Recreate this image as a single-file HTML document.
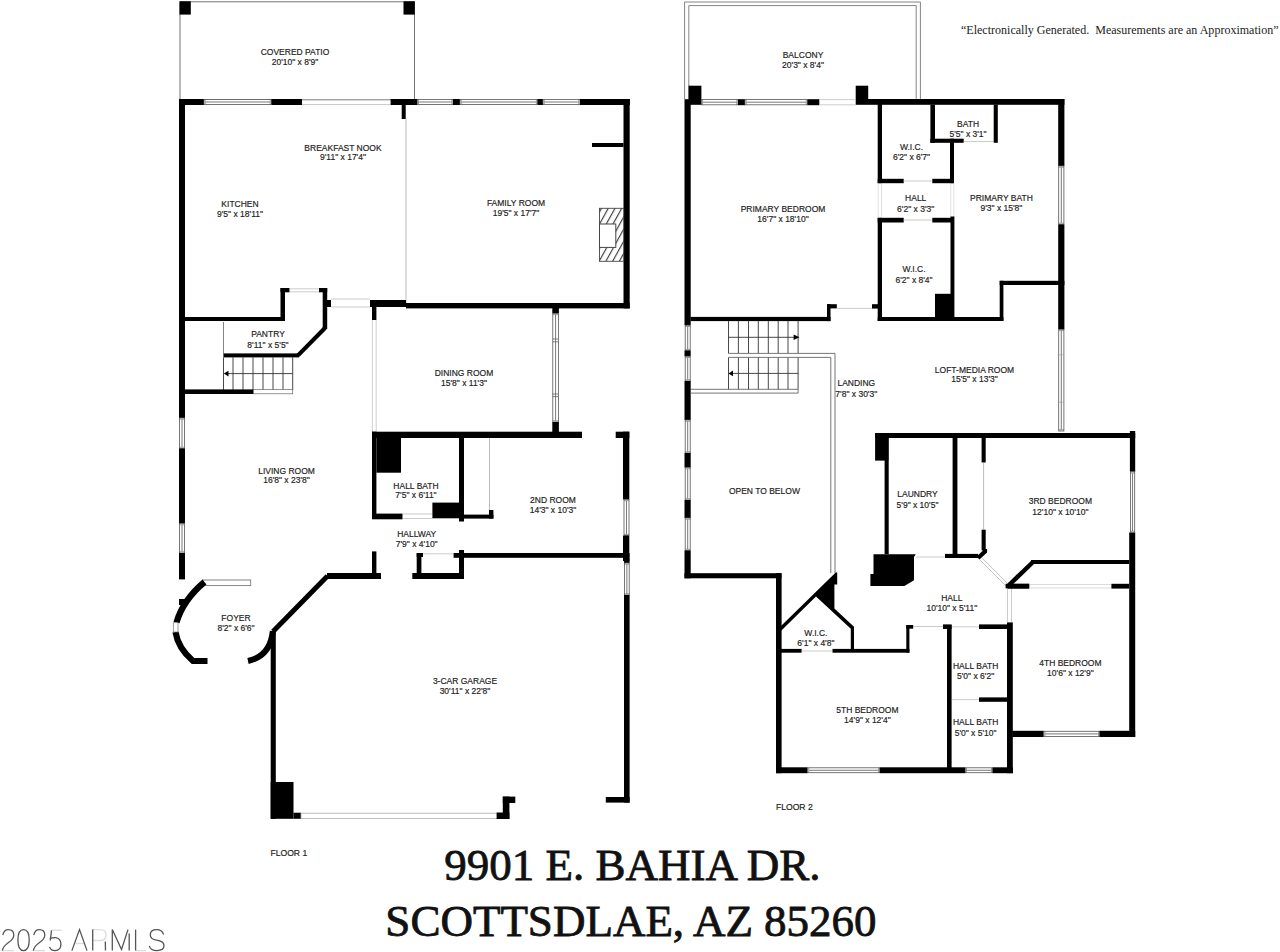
<!DOCTYPE html>
<html><head><meta charset="utf-8">
<style>
html,body{margin:0;padding:0;background:#fff;width:1280px;height:952px;overflow:hidden}
svg{position:absolute;left:0;top:0}
.t{font-family:"Liberation Sans",sans-serif;font-size:9px;fill:#222;stroke:#222;stroke-width:0.18px;text-anchor:middle}
.fl{font-family:"Liberation Sans",sans-serif;font-size:9.5px;fill:#222;stroke:#222;stroke-width:0.2px}
.disc{font-family:"Liberation Serif",serif;font-size:12px;fill:#222}
.addr{font-family:"Liberation Serif",serif;font-size:45px;fill:#111;stroke:#111;stroke-width:0.8px}
.wm{font-family:"Liberation Sans",sans-serif;font-size:32px;fill:#999}
</style></head><body>
<svg width="1280" height="952" viewBox="0 0 1280 952">
<rect x="180" y="1.8" width="234.5" height="98" fill="none" stroke="#666" stroke-width="0.9"/>
<rect x="179.5" y="1.3" width="11.3" height="13.3" fill="#000"/>
<rect x="403.5" y="1.3" width="11.3" height="13.3" fill="#000"/>
<rect x="179" y="99" width="25" height="6" fill="#000"/>
<rect x="204" y="99.5" width="67.5" height="5.0" fill="#fff" stroke="#555" stroke-width="0.8"/>
<line x1="205.5" y1="102.0" x2="270.0" y2="102.0" stroke="#555" stroke-width="0.8"/>
<line x1="205.2" y1="99.5" x2="205.2" y2="104.5" stroke="#555" stroke-width="0.6"/>
<line x1="270.3" y1="99.5" x2="270.3" y2="104.5" stroke="#555" stroke-width="0.6"/>
<rect x="271.5" y="99" width="30.5" height="6" fill="#000"/>
<line x1="302" y1="99.5" x2="390.6" y2="99.5" stroke="#aaa" stroke-width="0.6" stroke-linecap="butt"/>
<line x1="302" y1="104.5" x2="390.6" y2="104.5" stroke="#aaa" stroke-width="0.6" stroke-linecap="butt"/>
<rect x="390.6" y="99" width="26.7" height="6" fill="#000"/>
<rect x="401.7" y="105" width="4.0" height="14" fill="#000"/>
<rect x="417.3" y="99.5" width="35.7" height="5.0" fill="#fff" stroke="#555" stroke-width="0.8"/>
<line x1="418.8" y1="102.0" x2="451.5" y2="102.0" stroke="#555" stroke-width="0.8"/>
<line x1="418.5" y1="99.5" x2="418.5" y2="104.5" stroke="#555" stroke-width="0.6"/>
<line x1="451.8" y1="99.5" x2="451.8" y2="104.5" stroke="#555" stroke-width="0.6"/>
<rect x="453" y="99" width="7" height="6" fill="#000"/>
<rect x="460" y="99.5" width="77.6" height="5.0" fill="#fff" stroke="#555" stroke-width="0.8"/>
<line x1="461.5" y1="102.0" x2="536.1" y2="102.0" stroke="#555" stroke-width="0.8"/>
<line x1="461.2" y1="99.5" x2="461.2" y2="104.5" stroke="#555" stroke-width="0.6"/>
<line x1="536.4" y1="99.5" x2="536.4" y2="104.5" stroke="#555" stroke-width="0.6"/>
<rect x="537.6" y="99" width="5.4" height="6" fill="#000"/>
<rect x="543" y="99.5" width="37" height="5.0" fill="#fff" stroke="#555" stroke-width="0.8"/>
<line x1="544.5" y1="102.0" x2="578.5" y2="102.0" stroke="#555" stroke-width="0.8"/>
<line x1="544.2" y1="99.5" x2="544.2" y2="104.5" stroke="#555" stroke-width="0.6"/>
<line x1="578.8" y1="99.5" x2="578.8" y2="104.5" stroke="#555" stroke-width="0.6"/>
<rect x="580" y="99" width="50" height="6" fill="#000"/>
<rect x="623.5" y="99" width="6.2" height="209.4" fill="#000"/>
<rect x="592" y="143" width="31.5" height="4" fill="#000"/>
<defs><pattern id="hatch" width="5.9" height="7" patternUnits="userSpaceOnUse" patternTransform="translate(601,208) rotate(29)"><rect width="5.9" height="7" fill="#fff"/><line x1="0.6" y1="0" x2="0.6" y2="7" stroke="#333" stroke-width="1.1"/></pattern></defs>
<rect x="599.5" y="208.3" width="24.2" height="53" fill="url(#hatch)" stroke="#444" stroke-width="0.9"/>
<rect x="599.5" y="224" width="16.3" height="23.4" fill="#fff" stroke="#444" stroke-width="1"/>
<line x1="406" y1="119" x2="406" y2="303" stroke="#aaa" stroke-width="0.8" stroke-linecap="butt"/>
<rect x="370" y="300" width="36" height="7" fill="#000"/>
<rect x="406" y="303" width="223.7" height="5.4" fill="#000"/>
<rect x="372" y="307" width="4.4" height="13" fill="#000"/>
<line x1="372.4" y1="320" x2="372.4" y2="432" stroke="#bbb" stroke-width="0.7" stroke-linecap="butt"/>
<line x1="376.2" y1="320" x2="376.2" y2="432" stroke="#bbb" stroke-width="0.7" stroke-linecap="butt"/>
<rect x="179" y="99" width="6" height="319" fill="#000"/>
<rect x="179.5" y="418" width="5.0" height="30.5" fill="#fff" stroke="#555" stroke-width="0.8"/>
<line x1="182.0" y1="419.5" x2="182.0" y2="447.0" stroke="#555" stroke-width="0.8"/>
<line x1="179.5" y1="419.2" x2="184.5" y2="419.2" stroke="#555" stroke-width="0.6"/>
<line x1="179.5" y1="447.3" x2="184.5" y2="447.3" stroke="#555" stroke-width="0.6"/>
<rect x="179" y="448.5" width="6" height="75.0" fill="#000"/>
<rect x="179.5" y="523.5" width="5.0" height="29.5" fill="#fff" stroke="#555" stroke-width="0.8"/>
<line x1="182.0" y1="525.0" x2="182.0" y2="551.5" stroke="#555" stroke-width="0.8"/>
<line x1="179.5" y1="524.7" x2="184.5" y2="524.7" stroke="#555" stroke-width="0.6"/>
<line x1="179.5" y1="551.8" x2="184.5" y2="551.8" stroke="#555" stroke-width="0.6"/>
<rect x="179" y="553" width="6" height="26.4" fill="#000"/>
<rect x="185" y="317" width="99" height="4" fill="#000"/>
<rect x="280.5" y="288" width="4.5" height="33" fill="#000"/>
<rect x="280.5" y="288" width="9.0" height="4.3" fill="#000"/>
<line x1="289.5" y1="288.8" x2="319" y2="288.8" stroke="#aaa" stroke-width="0.6" stroke-linecap="butt"/>
<line x1="289.5" y1="291.8" x2="319" y2="291.8" stroke="#aaa" stroke-width="0.6" stroke-linecap="butt"/>
<rect x="319" y="288" width="8.2" height="4.3" fill="#000"/>
<rect x="322.7" y="288" width="4.5" height="41" fill="#000"/>
<path d="M 325 328 L 298 355.4" stroke="#000" stroke-width="4.2" fill="none" stroke-linejoin="miter"/>
<rect x="223.5" y="353.4" width="75.5" height="4.0" fill="#000"/>
<rect x="327" y="300" width="4" height="7" fill="#000"/>
<line x1="331" y1="299" x2="370" y2="299" stroke="#aaa" stroke-width="0.6" stroke-linecap="butt"/>
<line x1="331" y1="307" x2="370" y2="307" stroke="#aaa" stroke-width="0.6" stroke-linecap="butt"/>
<line x1="223.5" y1="357.4" x2="223.5" y2="390" stroke="#333" stroke-width="0.9" stroke-linecap="butt"/>
<line x1="233" y1="357.4" x2="233" y2="390" stroke="#333" stroke-width="0.9" stroke-linecap="butt"/>
<line x1="243" y1="357.4" x2="243" y2="390" stroke="#333" stroke-width="0.9" stroke-linecap="butt"/>
<line x1="253" y1="357.4" x2="253" y2="390" stroke="#333" stroke-width="0.9" stroke-linecap="butt"/>
<line x1="263" y1="357.4" x2="263" y2="390" stroke="#333" stroke-width="0.9" stroke-linecap="butt"/>
<line x1="273" y1="357.4" x2="273" y2="390" stroke="#333" stroke-width="0.9" stroke-linecap="butt"/>
<line x1="283" y1="357.4" x2="283" y2="390" stroke="#333" stroke-width="0.9" stroke-linecap="butt"/>
<line x1="292.7" y1="357.4" x2="292.7" y2="390" stroke="#333" stroke-width="0.9" stroke-linecap="butt"/>
<line x1="223.5" y1="322" x2="223.5" y2="357.4" stroke="#666" stroke-width="0.8" stroke-linecap="butt"/>
<line x1="226" y1="373.6" x2="292.7" y2="373.6" stroke="#333" stroke-width="0.9" stroke-linecap="butt"/>
<polygon points="223.8,373.6 228.5,370.8 228.5,376.4" fill="#000"/>
<rect x="185" y="389.4" width="68.6" height="4.6" fill="#000"/>
<rect x="253.6" y="389.6" width="39.1" height="4.2" fill="#fff" stroke="#666" stroke-width="0.7"/>
<rect x="202.5" y="580" width="48.2" height="5.6" fill="#fff" stroke="#777" stroke-width="0.9"/>
<path d="M 204.5 582 Q 183 600 176.5 622.5" stroke="#000" stroke-width="6.2" fill="none" stroke-linejoin="miter"/>
<rect x="179" y="599" width="6" height="6" fill="#000"/>
<path d="M 175.5 632 Q 178 648 193 661 L 207.5 661" stroke="#000" stroke-width="6.2" fill="none" stroke-linejoin="miter"/>
<rect x="173.3" y="622.7" width="4.7" height="9.3" fill="#fff" stroke="#777" stroke-width="0.7"/>
<path d="M 248 661 Q 270.5 656 272.8 631" stroke="#000" stroke-width="6" fill="none" stroke-linejoin="miter"/>
<rect x="552.3" y="307" width="6.6" height="6.4" fill="#000"/>
<rect x="552.8" y="313.4" width="5.6" height="108.6" fill="#fff" stroke="#555" stroke-width="0.8"/>
<line x1="555.5999999999999" y1="314.9" x2="555.5999999999999" y2="420.5" stroke="#555" stroke-width="0.8"/>
<line x1="552.8" y1="314.59999999999997" x2="558.4" y2="314.59999999999997" stroke="#555" stroke-width="0.6"/>
<line x1="552.8" y1="420.8" x2="558.4" y2="420.8" stroke="#555" stroke-width="0.6"/>
<line x1="552.5" y1="339" x2="558" y2="339" stroke="#555" stroke-width="0.7" stroke-linecap="butt"/>
<line x1="552.5" y1="341.8" x2="558" y2="341.8" stroke="#555" stroke-width="0.7" stroke-linecap="butt"/>
<line x1="552.5" y1="394" x2="558" y2="394" stroke="#555" stroke-width="0.7" stroke-linecap="butt"/>
<line x1="552.5" y1="396.6" x2="558" y2="396.6" stroke="#555" stroke-width="0.7" stroke-linecap="butt"/>
<rect x="552.3" y="422" width="6.6" height="14.5" fill="#000"/>
<rect x="372" y="431.7" width="210" height="6.3" fill="#000"/>
<rect x="615.7" y="431.7" width="13.6" height="6.3" fill="#000"/>
<rect x="623" y="431.7" width="6.3" height="67.8" fill="#000"/>
<rect x="624" y="499.5" width="5" height="36.1" fill="#fff" stroke="#555" stroke-width="0.8"/>
<line x1="626.5" y1="501.0" x2="626.5" y2="534.1" stroke="#555" stroke-width="0.8"/>
<line x1="624" y1="500.7" x2="629" y2="500.7" stroke="#555" stroke-width="0.6"/>
<line x1="624" y1="534.4" x2="629" y2="534.4" stroke="#555" stroke-width="0.6"/>
<rect x="623" y="535.6" width="6.3" height="25.4" fill="#000"/>
<rect x="372" y="431.7" width="4.4" height="86.3" fill="#000"/>
<rect x="376.4" y="438" width="24.6" height="34.7" fill="#000"/>
<rect x="459" y="438" width="5" height="83.5" fill="#000"/>
<rect x="372" y="513.6" width="30.5" height="5.7" fill="#000"/>
<line x1="402.5" y1="514" x2="432.4" y2="514" stroke="#aaa" stroke-width="0.6" stroke-linecap="butt"/>
<line x1="402.5" y1="518.5" x2="432.4" y2="518.5" stroke="#aaa" stroke-width="0.6" stroke-linecap="butt"/>
<rect x="432.4" y="502.6" width="26.6" height="15.7" fill="#000"/>
<line x1="489.5" y1="438" x2="489.5" y2="512" stroke="#aaa" stroke-width="0.8" stroke-linecap="butt"/>
<rect x="464" y="514.6" width="29.4" height="4.0" fill="#000"/>
<rect x="489" y="510" width="4.4" height="8.6" fill="#000"/>
<rect x="372" y="551.4" width="4.4" height="23.6" fill="#000"/>
<rect x="459" y="550" width="5" height="29" fill="#000"/>
<rect x="416.7" y="553" width="4.7" height="26" fill="#000"/>
<rect x="412.3" y="573" width="51.7" height="6" fill="#000"/>
<rect x="416.7" y="553" width="6.3" height="4" fill="#000"/>
<line x1="423" y1="553.8" x2="453.6" y2="553.8" stroke="#aaa" stroke-width="0.6" stroke-linecap="butt"/>
<rect x="453.6" y="553" width="176.0" height="4.8" fill="#000"/>
<rect x="624" y="558" width="5.6" height="5" fill="#000"/>
<rect x="624.5" y="563" width="4.7" height="32" fill="#fff" stroke="#555" stroke-width="0.8"/>
<line x1="626.85" y1="564.5" x2="626.85" y2="593.5" stroke="#555" stroke-width="0.8"/>
<line x1="624.5" y1="564.2" x2="629.2" y2="564.2" stroke="#555" stroke-width="0.6"/>
<line x1="624.5" y1="593.8" x2="629.2" y2="593.8" stroke="#555" stroke-width="0.6"/>
<rect x="624" y="595" width="5.6" height="207.6" fill="#000"/>
<rect x="605.8" y="797" width="23.8" height="5.6" fill="#000"/>
<path d="M 273 631.5 L 327.5 576" stroke="#000" stroke-width="5" fill="none" stroke-linejoin="miter"/>
<rect x="327" y="573" width="54" height="6" fill="#000"/>
<rect x="270.7" y="631" width="5.1" height="187.8" fill="#000"/>
<rect x="270.7" y="782" width="22.8" height="36.8" fill="#000"/>
<rect x="293.5" y="812.7" width="7.5" height="6.1" fill="#000"/>
<rect x="301" y="813.2" width="196.7" height="5.2" fill="#fff" stroke="#aaa" stroke-width="0.8"/>
<rect x="496.6" y="812.5" width="12.8" height="6.5" fill="#000"/>
<rect x="502.8" y="796.6" width="6.6" height="22.4" fill="#000"/>
<rect x="502.8" y="796.6" width="12.5" height="6.4" fill="#000"/>
<path d="M 684.6 99 L 684.6 2 L 920.4 2 L 920.4 99" fill="none" stroke="#777" stroke-width="0.9"/>
<path d="M 688.8 99 L 688.8 5.6 L 916.2 5.6 L 916.2 99" fill="none" stroke="#777" stroke-width="0.9"/>
<rect x="688.6" y="85.7" width="12.8" height="19.1" fill="#000"/>
<rect x="855.7" y="85.7" width="12.5" height="19.1" fill="#000"/>
<rect x="701.4" y="99.6" width="36.6" height="5.2" fill="#fff" stroke="#555" stroke-width="0.8"/>
<line x1="702.9" y1="102.19999999999999" x2="736.5" y2="102.19999999999999" stroke="#555" stroke-width="0.8"/>
<line x1="702.6" y1="99.6" x2="702.6" y2="104.8" stroke="#555" stroke-width="0.6"/>
<line x1="736.8" y1="99.6" x2="736.8" y2="104.8" stroke="#555" stroke-width="0.6"/>
<rect x="738" y="99.2" width="7" height="6.0" fill="#000"/>
<rect x="745" y="99.6" width="62.5" height="5.2" fill="#fff" stroke="#555" stroke-width="0.8"/>
<line x1="746.5" y1="102.19999999999999" x2="806.0" y2="102.19999999999999" stroke="#555" stroke-width="0.8"/>
<line x1="746.2" y1="99.6" x2="746.2" y2="104.8" stroke="#555" stroke-width="0.6"/>
<line x1="806.3" y1="99.6" x2="806.3" y2="104.8" stroke="#555" stroke-width="0.6"/>
<rect x="807.5" y="99.2" width="11.8" height="6.0" fill="#000"/>
<line x1="819.3" y1="99.6" x2="855.7" y2="99.6" stroke="#aaa" stroke-width="0.6" stroke-linecap="butt"/>
<line x1="819.3" y1="104.8" x2="855.7" y2="104.8" stroke="#aaa" stroke-width="0.6" stroke-linecap="butt"/>
<rect x="868" y="99" width="196.4" height="5.8" fill="#000"/>
<rect x="684.5" y="99.2" width="6.2" height="226.1" fill="#000"/>
<rect x="685.2" y="325.3" width="5.0" height="25.3" fill="#fff" stroke="#555" stroke-width="0.8"/>
<line x1="687.7" y1="326.8" x2="687.7" y2="349.1" stroke="#555" stroke-width="0.8"/>
<line x1="685.2" y1="326.5" x2="690.2" y2="326.5" stroke="#555" stroke-width="0.6"/>
<line x1="685.2" y1="349.40000000000003" x2="690.2" y2="349.40000000000003" stroke="#555" stroke-width="0.6"/>
<rect x="684.5" y="350.6" width="6.2" height="5.7" fill="#000"/>
<rect x="685.2" y="356.3" width="5.0" height="24.7" fill="#fff" stroke="#555" stroke-width="0.8"/>
<line x1="687.7" y1="357.8" x2="687.7" y2="379.5" stroke="#555" stroke-width="0.8"/>
<line x1="685.2" y1="357.5" x2="690.2" y2="357.5" stroke="#555" stroke-width="0.6"/>
<line x1="685.2" y1="379.8" x2="690.2" y2="379.8" stroke="#555" stroke-width="0.6"/>
<rect x="684.5" y="381" width="6.2" height="39" fill="#000"/>
<rect x="685.2" y="420" width="5.0" height="33" fill="#fff" stroke="#555" stroke-width="0.8"/>
<line x1="687.7" y1="421.5" x2="687.7" y2="451.5" stroke="#555" stroke-width="0.8"/>
<line x1="685.2" y1="421.2" x2="690.2" y2="421.2" stroke="#555" stroke-width="0.6"/>
<line x1="685.2" y1="451.8" x2="690.2" y2="451.8" stroke="#555" stroke-width="0.6"/>
<rect x="684.5" y="453" width="6.2" height="14.5" fill="#000"/>
<rect x="685.2" y="467.5" width="5.0" height="32.5" fill="#fff" stroke="#555" stroke-width="0.8"/>
<line x1="687.7" y1="469.0" x2="687.7" y2="498.5" stroke="#555" stroke-width="0.8"/>
<line x1="685.2" y1="468.7" x2="690.2" y2="468.7" stroke="#555" stroke-width="0.6"/>
<line x1="685.2" y1="498.8" x2="690.2" y2="498.8" stroke="#555" stroke-width="0.6"/>
<rect x="684.5" y="500" width="6.2" height="18" fill="#000"/>
<rect x="685.2" y="518" width="5.0" height="32.5" fill="#fff" stroke="#555" stroke-width="0.8"/>
<line x1="687.7" y1="519.5" x2="687.7" y2="549.0" stroke="#555" stroke-width="0.8"/>
<line x1="685.2" y1="519.2" x2="690.2" y2="519.2" stroke="#555" stroke-width="0.6"/>
<line x1="685.2" y1="549.3" x2="690.2" y2="549.3" stroke="#555" stroke-width="0.6"/>
<rect x="684.5" y="550.5" width="6.2" height="27.8" fill="#000"/>
<rect x="690.5" y="316.9" width="140.0" height="4.2" fill="#000"/>
<rect x="827" y="304.2" width="3.5" height="16.9" fill="#000"/>
<rect x="827" y="304.2" width="9.8" height="4.2" fill="#000"/>
<line x1="836.8" y1="308.4" x2="872" y2="308.4" stroke="#aaa" stroke-width="0.6" stroke-linecap="butt"/>
<rect x="872" y="304.2" width="6" height="4.4" fill="#000"/>
<rect x="877.7" y="102" width="4.3" height="81.2" fill="#000"/>
<rect x="877.7" y="217.8" width="4.3" height="103.2" fill="#000"/>
<rect x="877.7" y="317" width="125.7" height="4" fill="#000"/>
<rect x="877.7" y="178.8" width="26.0" height="4.4" fill="#000"/>
<line x1="903.7" y1="181" x2="932.3" y2="181" stroke="#aaa" stroke-width="0.6" stroke-linecap="butt"/>
<rect x="932.3" y="178.8" width="21.7" height="4.4" fill="#000"/>
<rect x="877.7" y="217.8" width="26.0" height="4.7" fill="#000"/>
<line x1="903.7" y1="220" x2="932.3" y2="220" stroke="#aaa" stroke-width="0.6" stroke-linecap="butt"/>
<rect x="932.3" y="217.8" width="21.7" height="4.7" fill="#000"/>
<rect x="950" y="138.7" width="4" height="44.5" fill="#000"/>
<line x1="878.2" y1="183.2" x2="878.2" y2="217.8" stroke="#ccc" stroke-width="0.6" stroke-linecap="butt"/>
<line x1="881.5" y1="183.2" x2="881.5" y2="217.8" stroke="#ccc" stroke-width="0.6" stroke-linecap="butt"/>
<line x1="950.8" y1="183.2" x2="950.8" y2="217.8" stroke="#ccc" stroke-width="0.6" stroke-linecap="butt"/>
<line x1="953.8" y1="183.2" x2="953.8" y2="217.8" stroke="#ccc" stroke-width="0.6" stroke-linecap="butt"/>
<rect x="950.5" y="216.5" width="3.9" height="104.5" fill="#000"/>
<rect x="935" y="293.8" width="19" height="27.2" fill="#000"/>
<rect x="930.4" y="104.6" width="4.6" height="38.2" fill="#000"/>
<rect x="930.4" y="138.7" width="33.3" height="4.1" fill="#000"/>
<line x1="963.7" y1="141.5" x2="993.7" y2="141.5" stroke="#aaa" stroke-width="0.6" stroke-linecap="butt"/>
<rect x="993.7" y="104.6" width="4.1" height="38.2" fill="#000"/>
<rect x="1058.2" y="99" width="6.2" height="67" fill="#000"/>
<rect x="1058.7" y="166" width="5.2" height="58.5" fill="#fff" stroke="#555" stroke-width="0.8"/>
<line x1="1061.3000000000002" y1="167.5" x2="1061.3000000000002" y2="223.0" stroke="#555" stroke-width="0.8"/>
<line x1="1058.7" y1="167.2" x2="1063.9" y2="167.2" stroke="#555" stroke-width="0.6"/>
<line x1="1058.7" y1="223.3" x2="1063.9" y2="223.3" stroke="#555" stroke-width="0.6"/>
<rect x="1058.2" y="224.5" width="6.2" height="104.9" fill="#000"/>
<rect x="1058.7" y="329.4" width="5.2" height="101.6" fill="#fff" stroke="#555" stroke-width="0.8"/>
<line x1="1061.3000000000002" y1="330.9" x2="1061.3000000000002" y2="429.5" stroke="#555" stroke-width="0.8"/>
<line x1="1058.7" y1="330.59999999999997" x2="1063.9" y2="330.59999999999997" stroke="#555" stroke-width="0.6"/>
<line x1="1058.7" y1="429.8" x2="1063.9" y2="429.8" stroke="#555" stroke-width="0.6"/>
<line x1="1058.7" y1="354.8" x2="1063.9" y2="354.8" stroke="#999" stroke-width="0.6" stroke-linecap="butt"/>
<line x1="1058.7" y1="402.2" x2="1063.9" y2="402.2" stroke="#999" stroke-width="0.6" stroke-linecap="butt"/>
<rect x="999.7" y="280.8" width="64.7" height="4.2" fill="#000"/>
<rect x="999.7" y="280.8" width="3.7" height="40.2" fill="#000"/>
<line x1="728.5" y1="321.1" x2="728.5" y2="353.4" stroke="#333" stroke-width="0.9" stroke-linecap="butt"/>
<line x1="728.5" y1="357.4" x2="728.5" y2="389.3" stroke="#333" stroke-width="0.9" stroke-linecap="butt"/>
<line x1="738.4" y1="321.1" x2="738.4" y2="353.4" stroke="#333" stroke-width="0.9" stroke-linecap="butt"/>
<line x1="738.4" y1="357.4" x2="738.4" y2="389.3" stroke="#333" stroke-width="0.9" stroke-linecap="butt"/>
<line x1="748.5" y1="321.1" x2="748.5" y2="353.4" stroke="#333" stroke-width="0.9" stroke-linecap="butt"/>
<line x1="748.5" y1="357.4" x2="748.5" y2="389.3" stroke="#333" stroke-width="0.9" stroke-linecap="butt"/>
<line x1="758.3" y1="321.1" x2="758.3" y2="353.4" stroke="#333" stroke-width="0.9" stroke-linecap="butt"/>
<line x1="758.3" y1="357.4" x2="758.3" y2="389.3" stroke="#333" stroke-width="0.9" stroke-linecap="butt"/>
<line x1="768.3" y1="321.1" x2="768.3" y2="353.4" stroke="#333" stroke-width="0.9" stroke-linecap="butt"/>
<line x1="768.3" y1="357.4" x2="768.3" y2="389.3" stroke="#333" stroke-width="0.9" stroke-linecap="butt"/>
<line x1="778.2" y1="321.1" x2="778.2" y2="353.4" stroke="#333" stroke-width="0.9" stroke-linecap="butt"/>
<line x1="778.2" y1="357.4" x2="778.2" y2="389.3" stroke="#333" stroke-width="0.9" stroke-linecap="butt"/>
<line x1="788" y1="321.1" x2="788" y2="353.4" stroke="#333" stroke-width="0.9" stroke-linecap="butt"/>
<line x1="788" y1="357.4" x2="788" y2="389.3" stroke="#333" stroke-width="0.9" stroke-linecap="butt"/>
<line x1="798.1" y1="321.1" x2="798.1" y2="353.4" stroke="#333" stroke-width="0.9" stroke-linecap="butt"/>
<line x1="798.1" y1="357.4" x2="798.1" y2="389.3" stroke="#333" stroke-width="0.9" stroke-linecap="butt"/>
<line x1="728.5" y1="337.3" x2="794" y2="337.3" stroke="#333" stroke-width="0.9" stroke-linecap="butt"/>
<polygon points="799.5,337.3 793.6,334.5 793.6,340.1" fill="#000"/>
<line x1="732" y1="373.4" x2="798.1" y2="373.4" stroke="#333" stroke-width="0.9" stroke-linecap="butt"/>
<polygon points="728.5,373.4 733,370.6 733,376.2" fill="#000"/>
<path d="M 728.5 353.4 L 835 353.4 L 835 573" fill="none" stroke="#666" stroke-width="0.9"/>
<path d="M 728.5 357.4 L 830.8 357.4 L 830.8 573" fill="none" stroke="#666" stroke-width="0.9"/>
<path d="M 690.7 389.3 L 798.1 389.3 L 798.1 393.1 L 690.7 393.1" fill="none" stroke="#666" stroke-width="0.9"/>
<rect x="684.5" y="573.2" width="96.9" height="5.1" fill="#000"/>
<rect x="776" y="573.2" width="5.6" height="200.0" fill="#000"/>
<polygon points="776.4,630.5 835.7,572.6 837.2,572.6 837.2,584.6 834.4,584.6 834.4,608.5 854,626.8 854,651 850.8,651 850.8,628.7 816,596.6 781.4,630.6 776.4,635" fill="#000"/>
<rect x="776.4" y="648.9" width="25.2" height="3.8" fill="#000"/>
<line x1="801.6" y1="651" x2="832.5" y2="651" stroke="#aaa" stroke-width="0.6" stroke-linecap="butt"/>
<rect x="832.5" y="648.9" width="76.9" height="3.8" fill="#000"/>
<rect x="906.3" y="625" width="3.1" height="27.7" fill="#000"/>
<rect x="906.3" y="625" width="6.9" height="3.7" fill="#000"/>
<line x1="913.2" y1="626.5" x2="943" y2="626.5" stroke="#aaa" stroke-width="0.6" stroke-linecap="butt"/>
<rect x="943" y="624.4" width="8.6" height="4.6" fill="#000"/>
<line x1="951.6" y1="626.8" x2="979" y2="626.8" stroke="#aaa" stroke-width="0.6" stroke-linecap="butt"/>
<rect x="979" y="624.4" width="29.9" height="4.6" fill="#000"/>
<rect x="947" y="625" width="4.6" height="147.7" fill="#000"/>
<rect x="1007" y="622.4" width="5.8" height="150.8" fill="#000"/>
<line x1="1007.5" y1="588" x2="1007.5" y2="622.4" stroke="#aaa" stroke-width="0.6" stroke-linecap="butt"/>
<line x1="1011.5" y1="588" x2="1011.5" y2="622.4" stroke="#aaa" stroke-width="0.6" stroke-linecap="butt"/>
<line x1="951.6" y1="699.6" x2="979" y2="699.6" stroke="#aaa" stroke-width="0.6" stroke-linecap="butt"/>
<rect x="979" y="697.4" width="29.9" height="4.4" fill="#000"/>
<rect x="776" y="767.3" width="31.5" height="5.9" fill="#000"/>
<rect x="807.5" y="767.8" width="72.3" height="4.9" fill="#fff" stroke="#555" stroke-width="0.8"/>
<line x1="809.0" y1="770.25" x2="878.3" y2="770.25" stroke="#555" stroke-width="0.8"/>
<line x1="808.7" y1="767.8" x2="808.7" y2="772.7" stroke="#555" stroke-width="0.6"/>
<line x1="878.5999999999999" y1="767.8" x2="878.5999999999999" y2="772.7" stroke="#555" stroke-width="0.6"/>
<rect x="879.8" y="767.3" width="85.5" height="5.9" fill="#000"/>
<rect x="965.3" y="767.8" width="27.4" height="4.9" fill="#fff" stroke="#555" stroke-width="0.8"/>
<line x1="966.8" y1="770.25" x2="991.2" y2="770.25" stroke="#555" stroke-width="0.8"/>
<line x1="966.5" y1="767.8" x2="966.5" y2="772.7" stroke="#555" stroke-width="0.6"/>
<line x1="991.5" y1="767.8" x2="991.5" y2="772.7" stroke="#555" stroke-width="0.6"/>
<rect x="992.7" y="767.3" width="20.3" height="5.9" fill="#000"/>
<rect x="1012.3" y="730.8" width="31.5" height="6.2" fill="#000"/>
<rect x="1043.8" y="731.3" width="55.9" height="5.2" fill="#fff" stroke="#555" stroke-width="0.8"/>
<line x1="1045.3" y1="733.9" x2="1098.2" y2="733.9" stroke="#555" stroke-width="0.8"/>
<line x1="1045.0" y1="731.3" x2="1045.0" y2="736.5" stroke="#555" stroke-width="0.6"/>
<line x1="1098.5" y1="731.3" x2="1098.5" y2="736.5" stroke="#555" stroke-width="0.6"/>
<rect x="1099.7" y="730.8" width="35.5" height="6.2" fill="#000"/>
<rect x="1129.2" y="532.5" width="6.0" height="204.5" fill="#000"/>
<rect x="1008" y="583.8" width="21.2" height="4.8" fill="#000"/>
<line x1="1029.2" y1="584.5" x2="1111.4" y2="584.5" stroke="#ccc" stroke-width="0.7" stroke-linecap="butt"/>
<line x1="1029.2" y1="588" x2="1111.4" y2="588" stroke="#ccc" stroke-width="0.7" stroke-linecap="butt"/>
<rect x="1111.4" y="583.8" width="17.8" height="4.8" fill="#000"/>
<rect x="875.1" y="433" width="260.1" height="5" fill="#000"/>
<rect x="1129.9" y="431" width="5.3" height="40.8" fill="#000"/>
<rect x="1130.4" y="471.8" width="4.3" height="60.7" fill="#fff" stroke="#555" stroke-width="0.8"/>
<line x1="1132.5500000000002" y1="473.3" x2="1132.5500000000002" y2="531.0" stroke="#555" stroke-width="0.8"/>
<line x1="1130.4" y1="473.0" x2="1134.7" y2="473.0" stroke="#555" stroke-width="0.6"/>
<line x1="1130.4" y1="531.3" x2="1134.7" y2="531.3" stroke="#555" stroke-width="0.6"/>
<rect x="875.1" y="433.6" width="13.3" height="27.0" fill="#000"/>
<rect x="884.6" y="438" width="4.1" height="116.2" fill="#000"/>
<rect x="952.6" y="438" width="4.8" height="118" fill="#000"/>
<rect x="981.6" y="438" width="4.1" height="24.5" fill="#000"/>
<line x1="983.6" y1="462.5" x2="983.6" y2="529.7" stroke="#aaa" stroke-width="0.8" stroke-linecap="butt"/>
<rect x="981.6" y="529.7" width="4.1" height="20.8" fill="#000"/>
<polygon points="873.5,554.2 915.8,554.2 914,557 914,580.2 904.4,586 870.4,586 870.4,574 873.5,574" fill="#000"/>
<line x1="916" y1="557" x2="945" y2="557" stroke="#aaa" stroke-width="0.6" stroke-linecap="butt"/>
<rect x="945" y="553.9" width="33" height="4.1" fill="#000"/>
<path d="M 985 549 L 985 551.5 L 978 558" stroke="#000" stroke-width="4.2" fill="none" stroke-linejoin="miter"/>
<line x1="982" y1="558" x2="1007" y2="583" stroke="#bbb" stroke-width="0.8" stroke-linecap="butt"/>
<line x1="980" y1="560" x2="1005" y2="585" stroke="#bbb" stroke-width="0.8" stroke-linecap="butt"/>
<path d="M 1007 587 L 1033 562" stroke="#000" stroke-width="4.4" fill="none" stroke-linejoin="miter"/>
<rect x="1031" y="560" width="98.2" height="4" fill="#000"/>
<rect x="1005.6" y="583.8" width="23.6" height="4.6" fill="#000"/>
<path d="M 2.3 950.6 L 14 950.6" fill="none" stroke="#ddd" stroke-width="1.4"/>
<path d="M 33.3 950.6 L 45 950.6" fill="none" stroke="#ddd" stroke-width="1.4"/>
<path d="M 51.5 930.3 L 61.5 930.3" fill="none" stroke="#ddd" stroke-width="1.4"/>
<path d="M 75.5 943.5 L 84 943.5" fill="none" stroke="#ddd" stroke-width="1.4"/>
<path d="M 92.7 929.6 L 100 929.6 Q 106 929.6 106 935 Q 106 940.5 100 940.5 L 92.7 940.5" fill="none" stroke="#ddd" stroke-width="1.4"/>
<path d="M 135.6 950.6 L 146 950.6" fill="none" stroke="#ddd" stroke-width="1.4"/>
<path d="M 2.8 935 Q 4 929.6 8.3 929.6 Q 13.8 929.6 13.8 935 Q 13.8 939 8.2 942.8 Q 3.2 946.3 2.3 950.6" fill="none" stroke="#555" stroke-width="1.3"/>
<path d="M 23.5 929.6 Q 17.9 929.6 17.9 940 Q 17.9 950.6 23.5 950.6 Q 29.2 950.6 29.2 940 Q 29.2 929.6 23.5 929.6 Z" fill="none" stroke="#555" stroke-width="1.3"/>
<path d="M 33.8 935 Q 35 929.6 39.3 929.6 Q 44.8 929.6 44.8 935 Q 44.8 939 39.2 942.8 Q 34.2 946.3 33.3 950.6" fill="none" stroke="#555" stroke-width="1.3"/>
<path d="M 51.5 930.3 L 50.3 940.5" fill="none" stroke="#555" stroke-width="1.3"/>
<path d="M 49.8 938.8 Q 52.5 937.3 55.5 937.6 Q 60.9 938.3 60.9 944 Q 60.9 950.6 55 950.6 Q 50.6 950.6 49.6 946.8" fill="none" stroke="#555" stroke-width="1.3"/>
<path d="M 71.9 950.6 L 79.5 929.6 L 87 950.6" fill="none" stroke="#555" stroke-width="1.3"/>
<path d="M 92.7 929.6 L 92.7 950.6" fill="none" stroke="#555" stroke-width="1.3"/>
<path d="M 105.3 941.5 L 105.5 950.6" fill="none" stroke="#555" stroke-width="1.3"/>
<path d="M 112.3 950.6 L 112.3 929.6 L 121.5 949.5 L 128 929.6" fill="none" stroke="#555" stroke-width="1.3"/>
<path d="M 129.2 933.5 L 129.2 950.6" fill="none" stroke="#555" stroke-width="1.3"/>
<path d="M 135.6 929.6 L 135.6 950.6" fill="none" stroke="#555" stroke-width="1.3"/>
<path d="M 163.6 934.5 Q 162 929.6 156.5 929.6 Q 150.3 929.6 150.3 934.8 Q 150.3 939.3 156.5 940.2 Q 164 941.3 164 945.6 Q 164 950.6 157 950.6 Q 150.5 950.6 149.3 945.8" fill="none" stroke="#555" stroke-width="1.3"/>
<text transform="translate(295,54.8) scale(0.945,1)" x="0" y="0" class="t">COVERED PATIO</text>
<text transform="translate(295,64.8) scale(0.945,1)" x="0" y="0" class="t">20'10" x 8'9"</text>
<text transform="translate(343,150.8) scale(0.945,1)" x="0" y="0" class="t">BREAKFAST NOOK</text>
<text transform="translate(343,160.3) scale(0.945,1)" x="0" y="0" class="t">9'11" x 17'4"</text>
<text transform="translate(240,207.3) scale(0.945,1)" x="0" y="0" class="t">KITCHEN</text>
<text transform="translate(240,216.8) scale(0.945,1)" x="0" y="0" class="t">9'5" x 18'11"</text>
<text transform="translate(516,206.3) scale(0.945,1)" x="0" y="0" class="t">FAMILY ROOM</text>
<text transform="translate(516,215.8) scale(0.945,1)" x="0" y="0" class="t">19'5" x 17'7"</text>
<text transform="translate(268,337.3) scale(0.945,1)" x="0" y="0" class="t">PANTRY</text>
<text transform="translate(268,347.8) scale(0.945,1)" x="0" y="0" class="t">8'11" x 5'5"</text>
<text transform="translate(464,376.3) scale(0.945,1)" x="0" y="0" class="t">DINING ROOM</text>
<text transform="translate(464,386.3) scale(0.945,1)" x="0" y="0" class="t">15'8" x 11'3"</text>
<text transform="translate(286.5,473.8) scale(0.945,1)" x="0" y="0" class="t">LIVING ROOM</text>
<text transform="translate(286.5,483.3) scale(0.945,1)" x="0" y="0" class="t">16'8" x 23'8"</text>
<text transform="translate(416,488.8) scale(0.945,1)" x="0" y="0" class="t">HALL BATH</text>
<text transform="translate(416,498.3) scale(0.945,1)" x="0" y="0" class="t">7'5" x 6'11"</text>
<text transform="translate(416.7,537.3) scale(0.945,1)" x="0" y="0" class="t">HALLWAY</text>
<text transform="translate(416.7,547.3) scale(0.945,1)" x="0" y="0" class="t">7'9" x 4'10"</text>
<text transform="translate(553,503.3) scale(0.945,1)" x="0" y="0" class="t">2ND ROOM</text>
<text transform="translate(553,512.8) scale(0.945,1)" x="0" y="0" class="t">14'3" x 10'3"</text>
<text transform="translate(236,621.3) scale(0.945,1)" x="0" y="0" class="t">FOYER</text>
<text transform="translate(236,630.8) scale(0.945,1)" x="0" y="0" class="t">8'2" x 6'6"</text>
<text transform="translate(465,684.3) scale(0.945,1)" x="0" y="0" class="t">3-CAR GARAGE</text>
<text transform="translate(465,693.8) scale(0.945,1)" x="0" y="0" class="t">30'11" x 22'8"</text>
<text transform="translate(803,57.8) scale(0.945,1)" x="0" y="0" class="t">BALCONY</text>
<text transform="translate(803,68.3) scale(0.945,1)" x="0" y="0" class="t">20'3" x 8'4"</text>
<text transform="translate(783,211.8) scale(0.945,1)" x="0" y="0" class="t">PRIMARY BEDROOM</text>
<text transform="translate(783,221.8) scale(0.945,1)" x="0" y="0" class="t">16'7" x 18'10"</text>
<text transform="translate(911.5,150.3) scale(0.945,1)" x="0" y="0" class="t">W.I.C.</text>
<text transform="translate(911.5,160.3) scale(0.945,1)" x="0" y="0" class="t">6'2" x 6'7"</text>
<text transform="translate(968,126.8) scale(0.945,1)" x="0" y="0" class="t">BATH</text>
<text transform="translate(968,137.3) scale(0.945,1)" x="0" y="0" class="t">5'5" x 3'1"</text>
<text transform="translate(915.7,201.3) scale(0.945,1)" x="0" y="0" class="t">HALL</text>
<text transform="translate(915.7,211.8) scale(0.945,1)" x="0" y="0" class="t">6'2" x 3'3"</text>
<text transform="translate(1001.4,200.8) scale(0.945,1)" x="0" y="0" class="t">PRIMARY BATH</text>
<text transform="translate(1001.4,210.8) scale(0.945,1)" x="0" y="0" class="t">9'3" x 15'8"</text>
<text transform="translate(914,272.3) scale(0.945,1)" x="0" y="0" class="t">W.I.C.</text>
<text transform="translate(914,283.3) scale(0.945,1)" x="0" y="0" class="t">6'2" x 8'4"</text>
<text transform="translate(974.5,372.8) scale(0.945,1)" x="0" y="0" class="t">LOFT-MEDIA ROOM</text>
<text transform="translate(974.5,382.3) scale(0.945,1)" x="0" y="0" class="t">15'5" x 13'3"</text>
<text transform="translate(856.3,385.8) scale(0.945,1)" x="0" y="0" class="t">LANDING</text>
<text transform="translate(856.3,396.8) scale(0.945,1)" x="0" y="0" class="t">7'8" x 30'3"</text>
<text transform="translate(764.4,493.8) scale(0.945,1)" x="0" y="0" class="t">OPEN TO BELOW</text>
<text transform="translate(917.5,497.3) scale(0.945,1)" x="0" y="0" class="t">LAUNDRY</text>
<text transform="translate(917.5,507.8) scale(0.945,1)" x="0" y="0" class="t">5'9" x 10'5"</text>
<text transform="translate(1060.4,504.3) scale(0.945,1)" x="0" y="0" class="t">3RD BEDROOM</text>
<text transform="translate(1060.4,514.8) scale(0.945,1)" x="0" y="0" class="t">12'10" x 10'10"</text>
<text transform="translate(951.8,600.8) scale(0.945,1)" x="0" y="0" class="t">HALL</text>
<text transform="translate(951.8,610.8) scale(0.945,1)" x="0" y="0" class="t">10'10" x 5'11"</text>
<text transform="translate(815.9,635.8) scale(0.945,1)" x="0" y="0" class="t">W.I.C.</text>
<text transform="translate(815.9,645.8) scale(0.945,1)" x="0" y="0" class="t">6'1" x 4'8"</text>
<text transform="translate(867.4,712.8) scale(0.945,1)" x="0" y="0" class="t">5TH BEDROOM</text>
<text transform="translate(867.4,722.8) scale(0.945,1)" x="0" y="0" class="t">14'9" x 12'4"</text>
<text transform="translate(975.6,668.8) scale(0.945,1)" x="0" y="0" class="t">HALL BATH</text>
<text transform="translate(975.6,679.3) scale(0.945,1)" x="0" y="0" class="t">5'0" x 6'2"</text>
<text transform="translate(975.6,724.8) scale(0.945,1)" x="0" y="0" class="t">HALL BATH</text>
<text transform="translate(975.6,735.8) scale(0.945,1)" x="0" y="0" class="t">5'0" x 5'10"</text>
<text transform="translate(1070.4,665.8) scale(0.945,1)" x="0" y="0" class="t">4TH BEDROOM</text>
<text transform="translate(1070.4,676.3) scale(0.945,1)" x="0" y="0" class="t">10'6" x 12'9"</text>
<text transform="translate(776,810) scale(0.905,1)" x="0" y="0" class="fl">FLOOR 2</text>
<text transform="translate(270.5,855.8) scale(0.905,1)" x="0" y="0" class="fl">FLOOR 1</text>
<text x="961" y="34" class="disc" textLength="317.5" lengthAdjust="spacingAndGlyphs">&#8220;Electronically Generated.&#160; Measurements are an Approximation&#8221;</text>
<text x="632.5" y="879.6" class="addr" text-anchor="middle">9901 E. BAHIA DR.</text>
<text x="631" y="936.4" class="addr" text-anchor="middle">SCOTTSDLAE, AZ 85260</text>
</svg>
</body></html>
